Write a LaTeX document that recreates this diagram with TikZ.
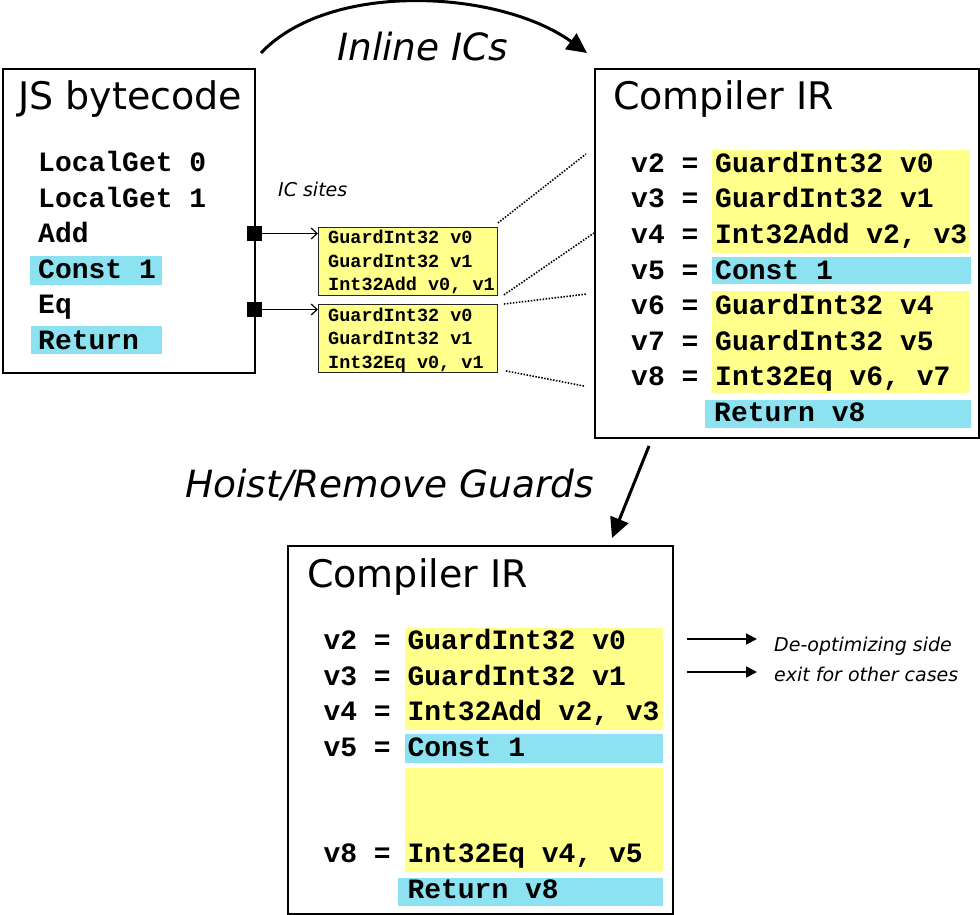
\documentclass[tikz,border=0pt]{standalone}
\usepackage{fontspec}
\setmainfont{DejaVu Sans}
\setmonofont{Liberation Mono}
\usetikzlibrary{arrows.meta}
\definecolor{guardyellow}{RGB}{255,255,140}
\definecolor{constcyan}{RGB}{140,226,240}

\begin{document}
\begin{tikzpicture}[x=1pt, y=-1pt,
  panel/.style={draw, line width=2pt, inner sep=0pt, anchor=north west},
  heading/.style={anchor=base west, inner sep=0pt, font=\fontsize{38}{45}\selectfont},
  passlbl/.style={anchor=base west, inner sep=0pt, font=\fontsize{37.5}{45}\selectfont\itshape},
  note/.style={inner sep=0pt, font=\fontsize{19}{30}\selectfont\itshape},
  code/.style={anchor=base west, inner sep=0pt, font=\fontsize{28}{34}\selectfont\ttfamily\bfseries},
  smallcode/.style={anchor=base west, inner sep=0pt, font=\fontsize{18.5}{23}\selectfont\ttfamily\bfseries},
  icbox/.style={draw=black!85, line width=0.9pt, fill=guardyellow, inner sep=0pt, anchor=north west, minimum width=179pt, minimum height=68pt},
  port/.style={fill, inner sep=0pt, minimum size=15pt},
  guard/.style={fill=guardyellow},
  cst/.style={fill=constcyan},
  icarrow/.style={line width=1.2pt, -{Straight Barb[length=6pt,width=11pt]}},
  ghost/.style={line width=1.6pt, dash pattern=on 1.5pt off 1.5pt},
  bigarrow/.style={line width=3pt, -{Triangle[length=20pt,width=19pt]}},
  exitarrow/.style={line width=1.8pt, -{Triangle[length=11pt,width=11pt]}}]

\useasboundingbox (0,0) rectangle (980,915);

% JS bytecode
\node[panel, minimum width=252pt, minimum height=304pt] (jsbox) at (2,68) {};
\node[heading] (jstitle) at (18,110) {JS bytecode};
\fill[cst] (30,256) rectangle (162,284.5);
\fill[cst] (31,326) rectangle (162,354);
\foreach \op [count=\i] in {LocalGet 0, LocalGet 1, Add, Const 1, Eq, Return}
	\node[code] (bc\i) at (38, 136.2+35.5*\i) {\op};

% IC sites
\node[note, anchor=base west] (iclbl) at (278,196.7) {IC sites};
\node[port] (sqadd) at (254.5,233.5) {};
\node[port] (sqeq) at (254.5,309.5) {};

\node[icbox] (icadd) at (318,227) {};
\foreach \ln [count=\i] in {GuardInt32 v0, GuardInt32 v1, {Int32Add v0, v1}}
	\node[smallcode] (icadd\i) at (328, 220+23.5*\i) {\ln};

\node[icbox] (iceq) at (318,304) {};
\foreach \ln [count=\i] in {GuardInt32 v0, GuardInt32 v1, {Int32Eq v0, v1}}
	\node[smallcode] (iceq\i) at (328, 297.5+23.5*\i) {\ln};

\draw[icarrow] (sqadd.east) -- (sqadd -| icadd.west);
\draw[icarrow] (sqeq.east) -- (sqeq -| iceq.west);

% Compiler IR (after inlining)
\node[panel, minimum width=384pt, minimum height=369pt] (irtop) at (594,68) {};
\node[heading] (irtitle) at (613,110) {Compiler IR};
\fill[guard] (712,150) rectangle (970,252.7);
\fill[cst] (712,256.7) rectangle (971,284.3);
\fill[guard] (712,291) rectangle (970,393.3);
\fill[cst] (705,400) rectangle (971,428.3);
\foreach \ln [count=\i] in {v2 = GuardInt32 v0, v3 = GuardInt32 v1, {v4 = Int32Add v2, v3}, v5 = Const 1, v6 = GuardInt32 v4, v7 = GuardInt32 v5, {v8 = Int32Eq v6, v7}}
	\node[code] (ira\i) at (631, 136.7+35.6*\i) {\ln};
\node[code] (iraret) at (714,421.9) {Return v8};

\coordinate (dl1) at (586,154);
\coordinate (dl2) at (594,233);
\coordinate (dl3) at (587,294);
\coordinate (dl4) at (584,386);
\draw[ghost] ([shift={(0,-4)}]icadd.north east) -- (dl1);
\draw[ghost] ([shift={(6,-1)}]icadd.south east) -- (dl2);
\draw[ghost] ([shift={(6,0)}]iceq.north east) -- (dl3);
\draw[ghost] ([shift={(8,-2)}]iceq.south east) -- (dl4);

\node[passlbl] (inlinelbl) at (337,61) {Inline ICs};
\draw[bigarrow] ([shift={(5,-15)}]jsbox.north east) .. controls (330,-20) and (500,-10) .. ([shift={(-7,-15)}]irtop.north west);

% Compiler IR (guards hoisted)
\node[passlbl] (hoistlbl) at (185,497.3) {Hoist/Remove Guards};
\node[panel, minimum width=385pt, minimum height=368pt] (irbot) at (287,545) {};
\draw[bigarrow] ([shift={(55,7)}]irtop.south west) -- ([shift={(325,-7)}]irbot.north west);

\node[heading] (irtitlebot) at (307,587) {Compiler IR};
\fill[guard] (405,627.7) rectangle (663,730);
\fill[cst] (405,734.3) rectangle (663,762.7);
\fill[guard] (405,768.3) rectangle (663,871.7);
\fill[cst] (398,877.7) rectangle (663,906);
\foreach \ln [count=\i] in {v2 = GuardInt32 v0, v3 = GuardInt32 v1, {v4 = Int32Add v2, v3}, v5 = Const 1}
	\node[code] (irb\i) at (323.3, 614+35.5*\i) {\ln};
\node[code] (irb8) at (323.3,862.5) {v8 = Int32Eq v4, v5};
\node[code] (irbret) at (407.3,898) {Return v8};

% side exits
\node[note, anchor=north west, align=left] (deopt) at (774,637.3) {De-optimizing side\\exit for other cases};
\coordinate (ex1) at (687,639);
\coordinate (ex2) at (687,672);
\draw[exitarrow, shorten >=17pt] (ex1) -- (ex1 -| deopt.west);
\draw[exitarrow, shorten >=17pt] (ex2) -- (ex2 -| deopt.west);

\end{tikzpicture}
\end{document}
